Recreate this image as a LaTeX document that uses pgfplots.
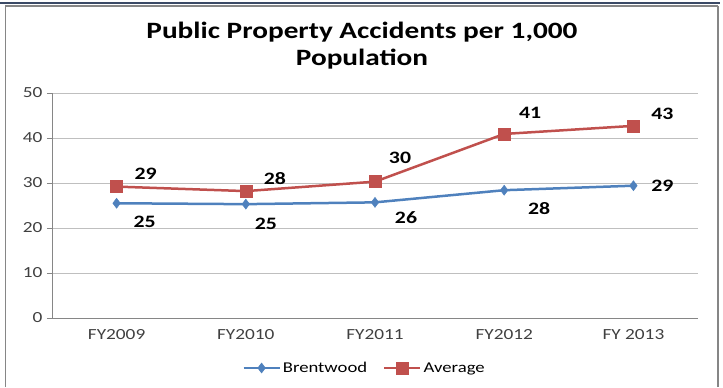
\documentclass[border=0pt]{standalone}
\usepackage{pgfplots}
\pgfplotsset{compat=1.18}
\usepackage{pgfplotstable}
\usepackage{fontspec}
\setmainfont{Carlito}[FakeStretch=1.25]
\definecolor{bw}{HTML}{4F81BD}
\definecolor{avg}{HTML}{C0504D}
\definecolor{axgray}{HTML}{868686}
\definecolor{gridgray}{HTML}{BFBFBF}
\definecolor{txt}{HTML}{404040}
\definecolor{topline}{HTML}{3B4A66}

\pgfplotstableread{
x y lab dx dy
0 25.5 25 28 -19
1 25.3 25 20 -20
2 25.7 26 31 -15
3 28.4 28 35 -18
4 29.4 29 29 0
}\brent
\pgfplotstableread{
x y lab dx dy
0 29.2 29 29 13
1 28.2 28 29 13
2 30.3 30 25 24
3 40.9 41 26 21
4 42.7 43 29 12
}\avgt

\begin{document}
\begin{tikzpicture}[x=1bp,y=1bp]
\path[use as bounding box] (0,0) rectangle (723,387);
\draw[color=topline, line width=1.2bp] (0,384) -- (720,384);
\draw[color=axgray, line width=1.5bp] (5.5,0) -- (5.5,381) -- (718,381);
\draw[color=axgray, line width=1.5bp] (718,0) -- (718,381);
\node[font=\bfseries\fontsize{23.5}{27}\selectfont, align=center, text=black] at (362,341) {Public Property Accidents per 1,000\\Population};
\begin{axis}[
  at={(52bp,69bp)}, anchor=south west,
  scale only axis, width=646bp, height=225bp,
  xmin=-0.5, xmax=4.5, ymin=0, ymax=50,
  ytick={0,10,...,50},
  xtick={0,1,2,3,4},
  xticklabels={FY2009,FY2010,FY2011,FY2012,FY 2013},
  extra x ticks={-0.5,0.5,1.5,2.5,3.5,4.5},
  extra x tick labels={},
  extra x tick style={major tick length=5bp, tick style={axgray, line width=0.8bp}, tick align=outside, grid=none},
  major x tick style={draw=none},
  ytick style={axgray, line width=0.8bp},
  tick align=outside, major tick length=5bp,
  ymajorgrids, grid style={gridgray, line width=0.8bp},
  axis x line*=bottom, axis y line*=left,
  axis line style={axgray, line width=0.8bp, -},
  ticklabel style={font=\fontsize{15.5}{17}\selectfont, text=txt},
  /pgf/number format/assume math mode=true,
  xticklabel style={yshift=-3bp},
  yticklabel style={xshift=-1bp},
  clip=false,
  nodes near coords,
  point meta=explicit symbolic,
  visualization depends on={\thisrow{dx}\as\dx},
  visualization depends on={\thisrow{dy}\as\dy},
  every node near coord/.append style={font=\bfseries\fontsize{17.5}{19}\selectfont, text=black, anchor=center, xshift=\dx bp, yshift=\dy bp},
  legend style={draw=none, font=\fontsize{15}{17}\selectfont, legend columns=2, /tikz/every even column/.append style={column sep=14bp}, at={(312.5bp,-50bp)}, anchor=center, inner sep=1bp},
  legend cell align=left,
  legend image code/.code={\draw[mark repeat=2, mark phase=2, #1] plot coordinates {(0bp,0bp) (18bp,0bp) (36bp,0bp)};},
]
\addplot[color=bw, line width=2.5bp, mark=diamond*, mark size=5bp, mark options={fill=bw, draw=bw, line width=0.5bp}] table[x=x, y=y, meta=lab] {\brent};
\addlegendentry{Brentwood}
\addplot[color=avg, line width=2.5bp, mark=square*, mark size=6bp, mark options={fill=avg, draw=avg, line width=0.5bp}] table[x=x, y=y, meta=lab] {\avgt};
\addlegendentry{Average}
\end{axis}
\end{tikzpicture}
\end{document}
